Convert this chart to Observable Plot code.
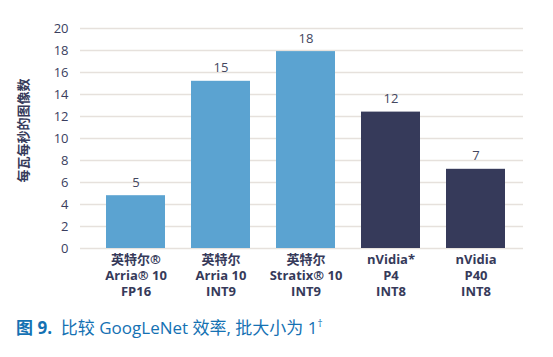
<!DOCTYPE html>
<html>
<head>
<meta charset="utf-8">
<script src="https://cdn.jsdelivr.net/npm/d3@7"></script>
<script src="https://cdn.jsdelivr.net/npm/@observablehq/plot@0.6"></script>
<style>
  html, body { margin: 0; padding: 0; background: #fff; }
  #wrap { width: 553px; height: 357px; position: relative; font-family: "Open Sans", "Noto Sans CJK SC", sans-serif; }
  #caption { position: absolute; left: 16px; top: 318px; font-size: 17px; line-height: 20px; color: #1471b3; white-space: nowrap; font-family: "Open Sans", "Noto Sans CJK SC", sans-serif; }
  #caption b { font-weight: 700; }
  #caption sup { font-size: 10px; vertical-align: 7px; line-height: 0; }
</style>
</head>
<body>
<div id="wrap"><div id="chart"></div><div id="caption"><b>图 9.</b>&nbsp; 比较 GoogLeNet 效率, 批大小为 1<sup>†</sup></div></div>
<script>
const categories = ["英特尔®\nArria® 10\nFP16", "英特尔\nArria 10\nINT9", "英特尔\nStratix® 10\nINT9", "nVidia*\nP4\nINT8", "nVidia\nP40\nINT8"];
const values = [4.8, 15.2, 17.9, 12.4, 7.2];
const valueLabels = ["5", "15", "18", "12", "7"];
const vendor = ["intel", "intel", "intel", "nvidia", "nvidia"];
const yTicks = [0, 2, 4, 6, 8, 10, 12, 14, 16, 18, 20];
const yLabel = "每瓦每秒的图像数";

const data = categories.map((c, i) => ({cat: c, value: values[i], label: valueLabels[i], vendor: vendor[i], lines: c.split("\n")}));
const font = '"Open Sans", "Noto Sans CJK SC", sans-serif';

const lineMarks = [0, 1, 2].map(k =>
  Plot.text(data, {x: "cat", text: d => d.lines[k], frameAnchor: "bottom", dy: 15 + 16 * k, fontWeight: "bold", fill: "#363a5a", fontSize: 13})
);

const chart = Plot.plot({
  width: 553,
  height: 310,
  marginLeft: 80,
  marginRight: 22,
  marginTop: 28,
  marginBottom: 62,
  style: {fontFamily: font, fontSize: "13px", color: "#3a3e5e", background: "#fff"},
  x: {domain: categories, paddingInner: 0.3, paddingOuter: 0.28, axis: null},
  y: {domain: [0, 20], ticks: yTicks, axis: null},
  color: {domain: ["intel", "nvidia"], range: ["#5ba3d1", "#363a5a"]},
  marks: [
    Plot.ruleY(yTicks, {stroke: "#e6e1dc", strokeWidth: 1.6, insetRight: 8}),
    Plot.axisY(yTicks, {tickSize: 0, tickPadding: 12, label: null, fill: "#3a3e5e", fontSize: 13}),
    Plot.barY(data, {x: "cat", y: "value", fill: "vendor"}),
    Plot.text(data, {x: "cat", y: "value", text: "label", dy: -13, fill: "#44475f", fontSize: 13}),
    ...lineMarks,
    Plot.text([yLabel], {text: d => d, frameAnchor: "left", textAnchor: "middle", dx: -57, dy: -8, rotate: -90, fontWeight: "bold", fill: "#363a5a", fontSize: 13})
  ]
});
document.getElementById("chart").appendChild(chart);
</script>
</body>
</html>
